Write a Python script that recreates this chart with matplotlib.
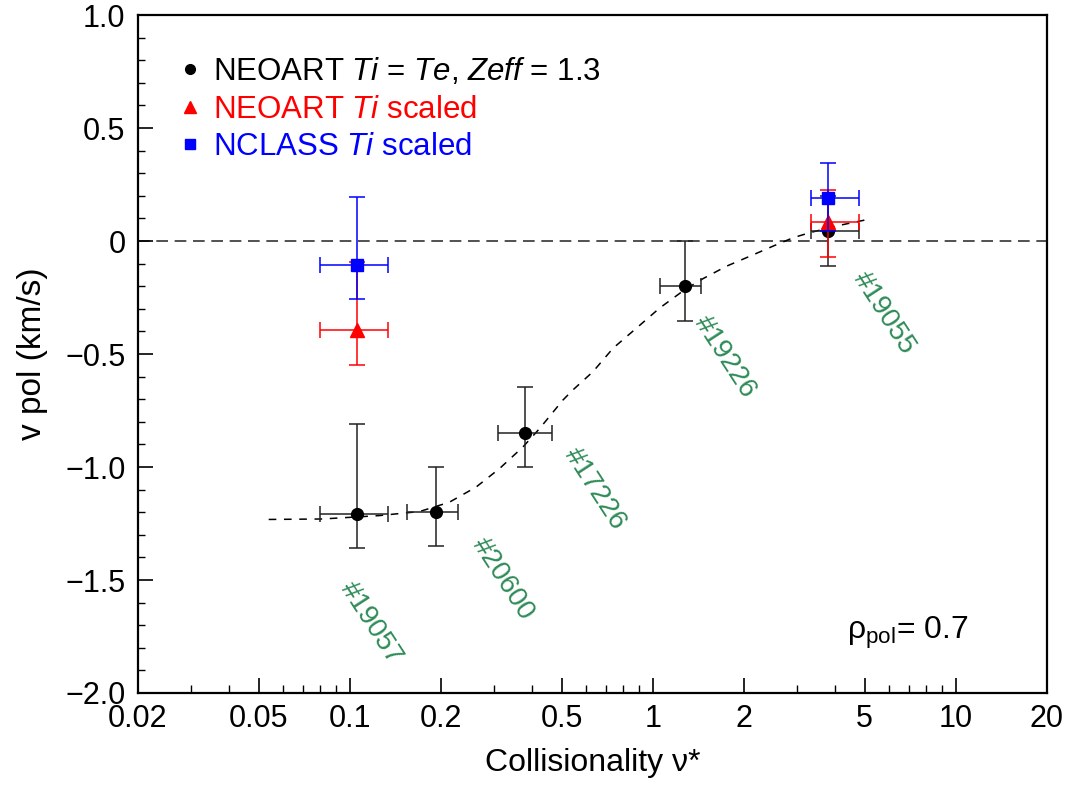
import numpy as np
import matplotlib
matplotlib.use("Agg")
from matplotlib import pyplot as plt
from matplotlib.lines import Line2D
from matplotlib.ticker import FixedLocator, FuncFormatter

plt.rcParams['font.family'] = ['Liberation Sans', 'DejaVu Sans']
plt.rcParams['mathtext.fontset'] = 'custom'
plt.rcParams['mathtext.rm'] = 'Liberation Sans'
plt.rcParams['mathtext.it'] = 'Liberation Sans:italic'

# NEOART Ti = Te (black)
nu_blk = [0.106, 0.193, 0.378, 1.276, 3.78]
v_blk = [-1.21, -1.20, -0.85, -0.20, 0.045]
nu_blk_lo = [0.080, 0.154, 0.308, 1.055, 3.32]
nu_blk_hi = [0.134, 0.227, 0.466, 1.44, 4.80]
v_blk_lo = [-1.36, -1.35, -1.0, -0.355, -0.11]
v_blk_hi = [-0.81, -1.0, -0.645, 0.0, 0.2]

# NEOART Ti scaled (red)
nu_red = [0.106, 3.78]
v_red = [-0.395, 0.085]
nu_red_lo = [0.080, 3.32]
nu_red_hi = [0.134, 4.80]
v_red_lo = [-0.547, -0.072]
v_red_hi = [-0.093, 0.227]

# NCLASS Ti scaled (blue)
nu_blu = [0.106, 3.78]
v_blu = [-0.105, 0.19]
nu_blu_lo = [0.080, 3.32]
nu_blu_hi = [0.134, 4.80]
v_blu_lo = [-0.255, 0.043]
v_blu_hi = [0.197, 0.344]

# dashed trend curve
nu_fit = [0.054, 0.081, 0.125, 0.170, 0.213, 0.261, 0.312, 0.373, 0.423, 0.505,
          0.545, 0.635, 0.74, 0.884, 1.055, 1.276, 1.467, 1.754, 2.094, 2.50,
          2.91, 3.30, 4.05, 5.02]
v_fit = [-1.232, -1.230, -1.215, -1.197, -1.156, -1.089, -1.007, -0.911, -0.830, -0.704,
         -0.659, -0.578, -0.474, -0.385, -0.296, -0.215, -0.166, -0.111, -0.067, -0.022,
         0.015, 0.037, 0.067, 0.093]

shots = ['#19057', '#20600', '#17226', '#19226', '#19055']
shot_nu = [0.1176, 0.320, 0.643, 1.73, 5.80]
shot_v = [-1.689, -1.496, -1.096, -0.511, -0.32]

x_ticks = [0.02, 0.05, 0.1, 0.2, 0.5, 1, 2, 5, 10, 20]
x_ticklabels = ['0.02', '0.05', '0.1', '0.2', '0.5', '1', '2', '5', '10', '20']


def errs(c, lo, hi):
    c = np.array(c)
    return [c - np.array(lo), np.array(hi) - c]


fig = plt.figure(figsize=(10.68, 7.92), dpi=100)
ax = fig.add_axes([0.1292, 0.125, 0.8511, 0.856])

ax.axhline(0, color='#333333', lw=1.2, dashes=(7, 4), zorder=1)
ax.plot(nu_fit, v_fit, color='k', lw=1.1, dashes=(5, 5), zorder=2)

ekw = dict(capsize=5.5, elinewidth=1.1, capthick=1.1, ls='none')
ax.errorbar(nu_blk, v_blk, xerr=errs(nu_blk, nu_blk_lo, nu_blk_hi),
            yerr=errs(v_blk, v_blk_lo, v_blk_hi), fmt='o', ms=8.5,
            color='k', ecolor='#222222', zorder=3, **ekw)
ax.errorbar(nu_red, v_red, xerr=errs(nu_red, nu_red_lo, nu_red_hi),
            yerr=errs(v_red, v_red_lo, v_red_hi), fmt='^', ms=10,
            color='red', zorder=4, **ekw)
ax.errorbar(nu_blu, v_blu, xerr=errs(nu_blu, nu_blu_lo, nu_blu_hi),
            yerr=errs(v_blu, v_blu_lo, v_blu_hi), fmt='s', ms=9,
            color='blue', zorder=5, **ekw)

for s, x, y in zip(shots, shot_nu, shot_v):
    ax.text(x, y, s, color='#2E8B57', fontsize=20, rotation=-57,
            ha='center', va='center', rotation_mode='anchor')

ax.set_xscale('log')
ax.set_xlim(0.02, 20)
ax.set_ylim(-2.0, 1.0)

ax.xaxis.set_major_locator(FixedLocator(x_ticks))
ax.xaxis.set_major_formatter(FuncFormatter(lambda v, p: x_ticklabels[x_ticks.index(v)] if v in x_ticks else ''))
minors = [m * 10.0 ** e for e in (-2, -1, 0, 1) for m in (3, 4, 6, 7, 8, 9)]
ax.xaxis.set_minor_locator(FixedLocator([m for m in minors if 0.02 < m < 20]))
ax.xaxis.set_minor_formatter(FuncFormatter(lambda v, p: ''))

ax.yaxis.set_major_locator(FixedLocator(np.arange(-2.0, 1.01, 0.5)))
ax.yaxis.set_minor_locator(FixedLocator(np.arange(-2.0, 1.01, 0.1)))
ax.yaxis.set_major_formatter(FuncFormatter(
    lambda v, p: '0' if abs(v) < 1e-9 else f'{v:.1f}'.replace('-', '\u2212')))

ax.tick_params(which='both', direction='in', top=False, right=False, labelsize=22)
ax.tick_params(axis='y', which='major', length=11, width=1.2, pad=9)
ax.tick_params(axis='y', which='minor', length=5, width=1.0)
ax.tick_params(axis='x', which='major', length=11, width=1.2, pad=8)
ax.tick_params(axis='x', which='minor', length=6, width=1.0)
for sp in ax.spines.values():
    sp.set_linewidth(1.6)

ax.set_xlabel('Collisionality \u03bd*', fontsize=23, labelpad=10)
ax.set_ylabel('v pol (km/s)', fontsize=24, labelpad=12)

ax.text(0.7805, 0.088, '\u03c1$_{\\rm pol}$= 0.7', transform=ax.transAxes,
        fontsize=23, ha='left', va='center')

handles = [
    Line2D([], [], ls='none', marker='o', color='k', ms=7),
    Line2D([], [], ls='none', marker='^', color='red', ms=8),
    Line2D([], [], ls='none', marker='s', color='blue', ms=7),
]
labels = [r'NEOART $\it{Ti}$ = $\it{Te}$, $\it{Zeff}$ = 1.3',
          r'NEOART $\it{Ti}$ scaled',
          r'NCLASS $\it{Ti}$ scaled']
ax.legend(handles, labels, loc='upper left', bbox_to_anchor=(0.026, 0.958),
          frameon=False, fontsize=22.5, labelspacing=0.24, handletextpad=0.24,
          handlelength=1.0, labelcolor=['k', 'red', 'blue'], borderaxespad=0)

fig.savefig('out.png', dpi=100)
